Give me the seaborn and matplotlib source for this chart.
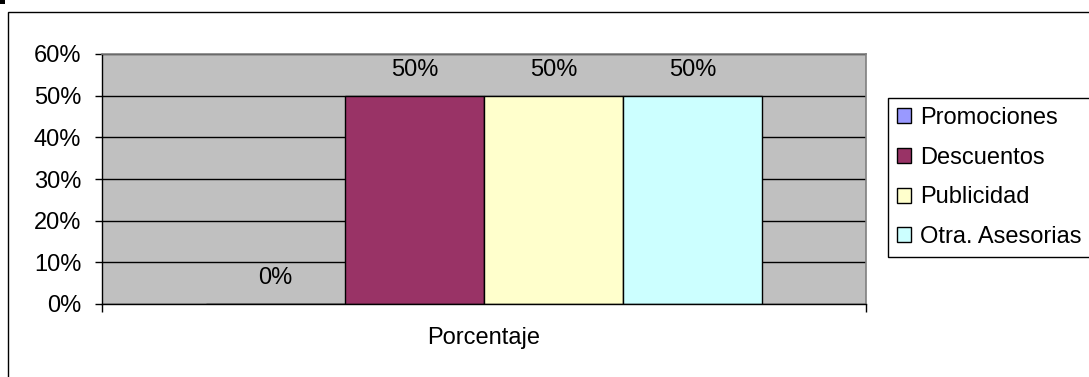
import matplotlib
matplotlib.use("Agg")
import matplotlib.pyplot as plt
from matplotlib import patches
import pandas as pd
import seaborn as sns

# Chart data
grupo = "Porcentaje"
series = ["Promociones", "Descuentos", "Publicidad", "Otra. Asesorias"]
valores = [0, 50, 50, 50]
colores = ["#9999FF", "#993366", "#FFFFCC", "#CCFFFF"]
yticks = [0, 10, 20, 30, 40, 50, 60]

plt.rcParams["font.family"] = ["Liberation Sans", "DejaVu Sans"]
FS = 17

df = pd.DataFrame({"grupo": [grupo] * len(series), "serie": series, "valor": valores})

W, H = 1089, 377
fig = plt.figure(figsize=(W / 100, H / 100), dpi=100)
fig.patch.set_facecolor("white")

ax = fig.add_axes([102 / W, 1 - 304 / H, (866 - 102) / W, (304 - 54) / H])
ax.set_facecolor("#C0C0C0")

sns.barplot(data=df, x="grupo", y="valor", hue="serie", hue_order=series,
            palette=colores, saturation=1, width=0.728, edgecolor="black",
            linewidth=1, ax=ax)

for cont in ax.containers:
    ax.bar_label(cont, labels=[f"{v:.0f}%" for v in cont.datavalues],
                 padding=10.5, fontsize=FS)

ax.set_xlim(-0.5, 0.5)
ax.set_ylim(0, 60)
ax.set_yticks(yticks)
ax.set_yticklabels([f"{t}%" for t in yticks])
ax.yaxis.grid(True, color="black", linewidth=1)
ax.set_axisbelow(True)

ax.set_xticks([0])
ax.set_xticklabels([grupo])
ax.set_xticks([-0.5, 0.5], minor=True)
ax.tick_params(axis="x", which="major", length=0, pad=16.5, labelsize=FS)
ax.tick_params(axis="x", which="minor", length=6, width=1, direction="out")
ax.tick_params(axis="y", length=5, width=1, direction="out", pad=10, labelsize=FS)
ax.set_xlabel("")
ax.set_ylabel("")

for side in ("left", "bottom"):
    ax.spines[side].set_color("black")
    ax.spines[side].set_linewidth(1)
for side in ("top", "right"):
    ax.spines[side].set_color("#808080")
    ax.spines[side].set_linewidth(1.2)

handles, labels = ax.get_legend_handles_labels()
ax.legend(handles, labels, loc="upper left",
          bbox_to_anchor=(888 / W, 1 - 98 / H), bbox_transform=fig.transFigure,
          frameon=True, fancybox=False, edgecolor="black", framealpha=1,
          borderaxespad=0, handlelength=0.6, handleheight=0.6,
          handletextpad=0.38, labelspacing=0.75, borderpad=0.38,
          fontsize=FS)
ax.get_legend().get_frame().set_linewidth(1)

# Outer chart frame and corner marker
fig.patches.append(patches.Rectangle((8 / W, -0.1), 1.2, 1.1 - 12 / H,
                                     transform=fig.transFigure, fill=False,
                                     edgecolor="black", linewidth=1))
fig.patches.append(patches.Rectangle((0, 1 - 4 / H), 5 / W, 4 / H,
                                     transform=fig.transFigure,
                                     facecolor="black", edgecolor="none"))

fig.savefig("out.png", dpi=100)
